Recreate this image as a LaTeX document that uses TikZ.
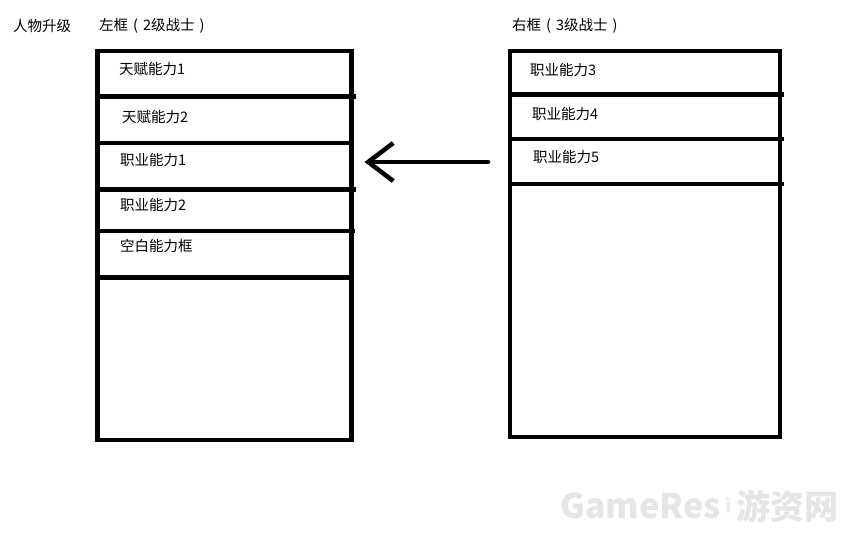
\documentclass[tikz,border=0pt]{standalone}
\usepackage{fontspec}
\setmainfont{Noto Sans CJK SC}
\usetikzlibrary{arrows.meta}
\newcommand{\pgap}{\hspace{5pt}}
\begin{document}
\begin{tikzpicture}[x=1pt,y=-1pt,
  frame/.style={draw=black,line width=4.5pt,minimum width=#1,inner sep=0pt,outer sep=0pt},
  divider/.style={line width=4.5pt},
  lbl/.style={anchor=west,inner sep=0pt,font=\fontsize{14.5}{17}\selectfont},
  wmark/.style={anchor=west,inner sep=0pt,text=black!10,font=\bfseries\fontsize{34}{34}\selectfont},
  arr/.style={line width=4.5pt,line cap=round,-{Straight Barb[length=25pt,width=38pt,line width=4.5pt]}}]
\useasboundingbox[fill=white] (0,0) rectangle (864,540);
% watermark
\node[wmark] (wm1) at (560,506) {GameRes};
\node[anchor=center,inner sep=0pt,text=black!10,font=\bfseries\fontsize{7}{7}\selectfont,rotate=-90] (wm2) at (728,505) {.com};
\node[wmark] (wm3) at (736,506) {游资网};
% boxes
\node[frame=254pt,minimum height=389pt] (L) at (224.5,245.5) {};
\node[frame=270pt,minimum height=386pt] (R) at (645,244) {};
% dividers, left
\coordinate (l1) at (0,96.5);
\coordinate (l2) at (0,143);
\coordinate (l3) at (0,189.5);
\coordinate (l4) at (0,231);
\coordinate (l5) at (0,277.5);
\draw[divider] (L.west |- l1) -- ([xshift=4pt]L.east |- l1);
\draw[divider] ([xshift=-3pt]L.west |- l2) -- (L.east |- l2);
\draw[divider] (L.west |- l3) -- ([xshift=4pt]L.east |- l3);
\draw[divider] (L.west |- l4) -- ([xshift=3pt]L.east |- l4);
\draw[divider] (L.west |- l5) -- (L.east |- l5);
% dividers, right
\coordinate (r1) at (0,94.7);
\coordinate (r2) at (0,139);
\coordinate (r3) at (0,184);
\draw[divider] (R.west |- r1) -- ([xshift=4pt]R.east |- r1);
\draw[divider] (R.west |- r2) -- ([xshift=4pt]R.east |- r2);
\draw[divider] (R.west |- r3) -- ([xshift=4pt]R.east |- r3);
% arrow
\coordinate (ay) at (0,162);
\draw[arr] ([xshift=-22pt]R.west |- ay) -- ([xshift=13pt]L.east |- ay);
% titles
\node[lbl] (t0) at (13,26) {人物升级};
\node[lbl] (t1) at (99,25.5) {左框\pgap(\pgap2级战士\pgap)};
\node[lbl] (t2) at (512,25.5) {右框\pgap(\pgap3级战士\pgap)};
% left entries
\node[lbl] (a1) at (119,69) {天赋能力1};
\node[lbl] (a2) at (122,117) {天赋能力2};
\node[lbl] (a3) at (120,160) {职业能力1};
\node[lbl] (a4) at (120,205) {职业能力2};
\node[lbl] (a5) at (120,246) {空白能力框};
% right entries
\node[lbl] (b1) at (530,70) {职业能力3};
\node[lbl] (b2) at (532,114) {职业能力4};
\node[lbl] (b3) at (533,157) {职业能力5};
\end{tikzpicture}
\end{document}
